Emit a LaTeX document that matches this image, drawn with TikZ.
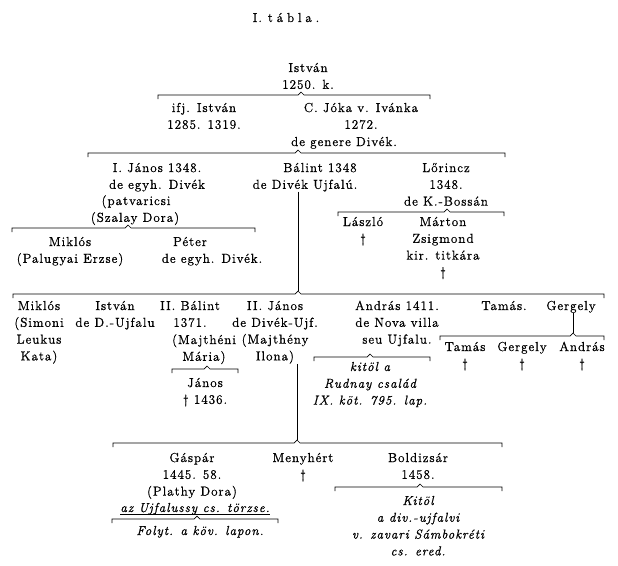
\documentclass[tikz,border=0pt]{standalone}
\usepackage{fontspec}
\setmainfont{lmroman12-regular.otf}[
  ItalicFont=lmroman12-italic.otf,
  LetterSpace=8, FakeBold=1]

% family line: left end, caret, right end
\newcommand{\genbrace}[5]{%
  \coordinate (#1) at (#3,#5-3);
  \draw[famline] (#2,#5+4) -- (#2,#5) -- (#3-3,#5) -- (#1) -- (#3+3,#5) -- (#4,#5) -- (#4,#5+4);
}

\begin{document}
\begin{tikzpicture}[x=1pt, y=-1pt,
    every node/.style={inner sep=0pt, anchor=base, align=center,
      font=\fontsize{13}{16.8}\selectfont},
    kursiv/.style={font=\fontsize{13}{16.8}\selectfont\itshape},
    famline/.style={line width=0.7pt},
    vonal/.style={line width=0.7pt}]
  \useasboundingbox[fill=white] (0,0) rectangle (618,565);

  % --- cím ---
  \node (title) at (286,22) {I.\hspace{6pt}{\addfontfeatures{LetterSpace=30}tábla.}};

  % --- István és fiai ---
  % (anchor base = utolsó sor alapvonala)
  \node (istvan) at (308,88.8) {István\\1250. k.};
  \genbrace{c1}{158}{301}{430}{95}
  \node (ifjistvan) at (204,128.8) {ifj. István\\1285. 1319.};
  \node (joka) at (361,128.8) {C. Jóka v. Ivánka\\1272.};
  \node (jokagen) at (344,146) {de genere Divék.};

  % --- Jóka fiai ---
  \genbrace{c2}{88}{298}{505}{153}
  \node (janos) at (157,188.8) {I. János 1348.\\de egyh. Divék};
  \node (patv) at (136,205) {(patvaricsi};
  \node (szalay) at (135,221.8) {(Szalay Dora)};
  \node (balint) at (320,172) {Bálint 1348};
  \node (balintloc) at (305,188.8) {de Divék Ujfalú.};
  \node (lorincz) at (446,205.6) {Lőrincz\\1348.\\de K.-Bossán};

  % Lőrincz ága
  \genbrace{c3}{338}{447}{504}{212}
  \node (laszlo) at (363,242.8) {László\\\textdagger};
  \node (marton) at (443,276.4) {Márton\\Zsigmond\\kir. titkára\\\textdagger};

  % I. János ága
  \genbrace{c4}{12}{128}{255}{228}
  \node (miklos) at (70,262.8) {Miklós\\(Palugyai Erzse)};
  \node (peter) at (190,246) {Péter};
  \node (peterloc) at (212,262.8) {de egyh. Divék.};

  % --- Bálint fiai ---
  \genbrace{c5}{13}{298}{604}{294}
  \draw[vonal] (balintloc.south -| c5) -- (c5);
  \node (miklos2) at (39,360.4) {Miklós\\(Simoni\\Leukus\\Kata)};
  \node (istvan2) at (115,326.8) {István\\de D.-Ujfalu};
  \node (balint2) at (190,326.8) {II. Bálint\\1371.};
  \node (balint2w) at (204,360.8) {(Majthéni\\Mária)};
  \node (janos2) at (275,360.4) {II. János\\de Divék-Ujf.\\(Majthény\\Ilona)};
  \node (andras) at (397,343.6) {András 1411.\\de Nova villa\\seu Ujfalu.};
  \node (tamas) at (504,310) {Tamás.};
  \node (gergely) at (571,310) {Gergely};

  % Gergely ága
  \genbrace{c6}{440}{573}{604}{336}
  \draw[vonal] (gergely.south -| c6) -- (c6);
  \node (tamas2) at (465,367.8) {Tamás\\\textdagger};
  \node (gergely2) at (522,367.8) {Gergely\\\textdagger};
  \node (andras2) at (582,367.8) {András\\\textdagger};

  % II. Bálint ága
  \genbrace{c7}{172}{207}{238}{369}
  \node (janos3) at (205,403.8) {János\\\textdagger{} 1436.};

  % András ága
  \genbrace{c8}{314}{370}{430}{357}
  \node[kursiv] (kitol) at (370,404.6) {kitöl a\\Rudnay család\\IX. köt. 795. lap.};

  % --- II. János fiai ---
  \genbrace{c9}{113}{297}{502}{443}
  \draw[vonal] (janos2.south -| c9) -- (c9);
  \node (gaspar) at (192,495.6) {Gáspár\\1445. 58.\\(Plathy Dora)};
  \node[kursiv] (torzs) at (195,512) {az Ujfalussy cs. törzse.};
  \draw[vonal] ([yshift=-2.5pt]torzs.base west) -- ([yshift=-2.5pt]torzs.base east);
  \genbrace{c10}{112}{197}{278}{519}
  \node[kursiv] (folyt) at (200,535) {Folyt. a köv. lapon.};
  \node (menyhert) at (303,478.8) {Menyhért\\\textdagger};
  \node (boldizsar) at (418,478.8) {Boldizsár\\1458.};

  % Boldizsár ága
  \genbrace{c11}{335}{420}{502}{487}
  \node[kursiv] (kitol2) at (418,555.4) {Kitöl\\a div.-ujfalvi\\v. zavari Sámbokréti\\cs. ered.};
\end{tikzpicture}
\end{document}
